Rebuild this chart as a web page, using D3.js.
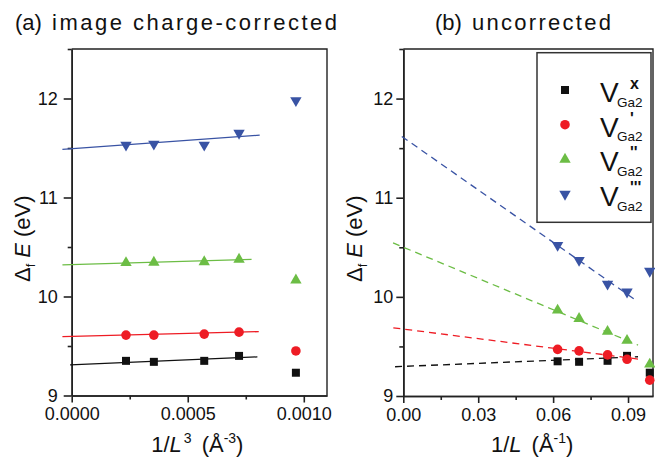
<!DOCTYPE html>
<html>
<head>
<meta charset="utf-8">
<script src="https://cdn.jsdelivr.net/npm/d3@7"></script>
<style>
  body { margin: 0; background: #fff; }
  text { font-family: 'Liberation Sans', Arial, sans-serif; fill: #111; }
</style>
</head>
<body>
<script>
// x values
const invL3 = [0.000234, 0.000354, 0.000571, 0.000721, 0.000966]
const invL = [0.0618, 0.0704, 0.0818, 0.0896, 0.0987]

// (a) image charge-corrected formation energies (eV)
const corrX = [9.35, 9.34, 9.35, 9.40, 9.23]
const corrP1 = [9.61, 9.61, 9.62, 9.64, 9.45]
const corrP2 = [10.34, 10.345, 10.35, 10.375, 10.165]
const corrP3 = [11.53, 11.54, 11.53, 11.65, 11.98]

// (b) uncorrected formation energies (eV)
const uncX = [9.35, 9.345, 9.355, 9.405, 9.235]
const uncP1 = [9.47, 9.455, 9.415, 9.37, 9.16]
const uncP2 = [9.865, 9.78, 9.65, 9.56, 9.32]
const uncP3 = [10.52, 10.37, 10.13, 10.05, 10.26]

// fit lines, [x, E] end points
const fitCorrX = [[-0.000007, 9.31], [0.0008, 9.39]]
const fitCorrP1 = [[-0.00004, 9.594], [0.000806, 9.645]]
const fitCorrP2 = [[-0.00004, 10.32], [0.000775, 10.376]]
const fitCorrP3 = [[-0.00004, 11.487], [0.00081, 11.63]]
const fitUncX = [[-0.0033, 9.295], [0.094, 9.396]]
const fitUncP1 = [[-0.004, 9.688], [0.094, 9.373]]
const fitUncP2 = [[-0.0041, 10.544], [0.094, 9.514]]
const fitUncP3 = [[-0.0006, 11.618], [0.0927, 9.974]]

const charges = ['x', '\'', '\'\'', '\'\'\'']
const colors = ['#111111', '#ee1c24', '#6cbd45', '#3953a4']

const series = charges.map((c, i) => ({
  charge: c,
  color: colors[i],
  corr: [corrX, corrP1, corrP2, corrP3][i],
  unc: [uncX, uncP1, uncP2, uncP3][i],
  fitCorr: [fitCorrX, fitCorrP1, fitCorrP2, fitCorrP3][i],
  fitUnc: [fitUncX, fitUncP1, fitUncP2, fitUncP3][i]
}))

const svg = d3.select('body').append('svg')
  .attr('width', 655)
  .attr('height', 459)

function marker (sel, i) {
  if (i === 0) {
    sel.attr('d', d3.symbol(d3.symbolSquare, 64)())
  } else if (i === 1) {
    sel.attr('d', d3.symbol(d3.symbolCircle, 72)())
  } else {
    sel.attr('d', d3.symbol(d3.symbolTriangle, 56)())
  }
}

function styleAxis (g) {
  g.selectAll('.domain, .tick line').attr('stroke', '#222').attr('stroke-width', 1.6)
  g.selectAll('.tick text').style('font-size', '18px').attr('fill', '#111')
}

function panel (cfg) {
  const x = d3.scaleLinear().domain(cfg.xDomain).range(cfg.xRange)
  const y = d3.scaleLinear().domain([9, 12.5]).range(cfg.yRange)
  const g = svg.append('g')

  // top and right frame
  g.append('path')
    .attr('d', 'M' + cfg.xRange[0] + ',' + cfg.yRange[1] + 'H' + cfg.xRange[1] + 'V' + cfg.yRange[0])
    .attr('fill', 'none')
    .attr('stroke', '#222')
    .attr('stroke-width', 1.4)

  // minor ticks
  g.append('g')
    .attr('transform', 'translate(0,' + cfg.yRange[0] + ')')
    .call(d3.axisBottom(x).tickValues(cfg.xMinor).tickSize(4).tickSizeOuter(0).tickFormat(''))
    .call(styleAxis)
  g.append('g')
    .attr('transform', 'translate(' + cfg.xRange[0] + ',0)')
    .call(d3.axisLeft(y).tickValues([9.5, 10.5, 11.5, 12.5]).tickSize(4).tickSizeOuter(0).tickFormat(''))
    .call(styleAxis)

  // major ticks
  g.append('g')
    .attr('transform', 'translate(0,' + cfg.yRange[0] + ')')
    .call(d3.axisBottom(x).tickValues(cfg.xMajor).tickSize(7).tickPadding(5).tickSizeOuter(0).tickFormat(d3.format(cfg.fmt)))
    .call(styleAxis)
  g.append('g')
    .attr('transform', 'translate(' + cfg.xRange[0] + ',0)')
    .call(d3.axisLeft(y).tickValues([9, 10, 11, 12]).tickSize(cfg.yTick).tickPadding(cfg.yPad).tickSizeOuter(0).tickFormat(d3.format('d')))
    .call(styleAxis)

  const line = d3.line().x(d => x(d[0])).y(d => y(d[1]))

  series.forEach((s, i) => {
    g.append('path')
      .datum(s[cfg.fit])
      .attr('d', line)
      .attr('fill', 'none')
      .attr('stroke', s.color)
      .attr('stroke-width', 1.3)
      .attr('stroke-dasharray', cfg.dash)

    g.selectAll('.pt' + i)
      .data(s[cfg.key])
      .enter()
      .append('path')
      .attr('class', 'pt' + i)
      .call(marker, i)
      .attr('transform', (d, j) => 'translate(' + x(cfg.xs[j]) + ',' + y(d) + ')' + (i === 3 ? ' rotate(180)' : ''))
      .attr('fill', s.color)
  })

  // panel title
  svg.append('text')
    .attr('x', cfg.titleX)
    .attr('y', 30)
    .style('font-size', '22px')
    .text(cfg.tag)
  svg.append('text')
    .attr('x', cfg.titleX + 37)
    .attr('y', 30)
    .style('font-size', '22px')
    .attr('textLength', cfg.titleLen)
    .text(cfg.title)

  // y label
  const yl = svg.append('text')
    .attr('transform', 'translate(' + cfg.yLabelX + ',282) rotate(-90)')
    .style('font-size', '22px')
  yl.append('tspan').text('\u0394')
  yl.append('tspan').attr('dy', 5).style('font-size', '13px').text('f')
  yl.append('tspan').attr('dy', -5).attr('dx', 6).style('font-style', 'italic').text('E')
  yl.append('tspan').attr('dx', 6).text('(eV)')

  // x label
  const xl = svg.append('text')
    .attr('x', (cfg.xRange[0] + cfg.xRange[1]) / 2 + cfg.xLabelShift)
    .attr('y', 452)
    .attr('text-anchor', 'middle')
    .style('font-size', '22px')
  xl.append('tspan').text('1/')
  xl.append('tspan').style('font-style', 'italic').text('L')
  if (cfg.cube) xl.append('tspan').attr('dy', -9).attr('dx', 2).style('font-size', '14px').text('3')
  xl.append('tspan').attr('dy', cfg.cube ? 9 : 0).attr('dx', 10).text('(\u00c5')
  xl.append('tspan').attr('dy', -9).style('font-size', '14px').text(cfg.cube ? '-3' : '-1')
  xl.append('tspan').attr('dy', 9).text(')')

  return { x, y }
}

panel({
  xDomain: [0, 0.0011],
  xRange: [71.7, 327],
  yRange: [395.5, 49],
  xMajor: [0, 0.0005, 0.001],
  xMinor: [0.00025, 0.00075],
  fmt: '.4f',
  yTick: 8,
  yPad: 6,
  xs: invL3,
  key: 'corr',
  fit: 'fitCorr',
  dash: null,
  tag: '(a)',
  title: 'image charge-corrected',
  titleX: 15,
  titleLen: 285,
  yLabelX: 30,
  xLabelShift: -2,
  cube: true
})

panel({
  xDomain: [0, 0.1],
  xRange: [403.3, 653],
  yRange: [396, 49],
  xMajor: [0, 0.03, 0.06, 0.09],
  xMinor: [0.015, 0.045, 0.075],
  fmt: '.2f',
  yTick: 7,
  yPad: 3,
  xs: invL,
  key: 'unc',
  fit: 'fitUnc',
  dash: '7,5',
  tag: '(b)',
  title: 'uncorrected',
  titleX: 435,
  titleLen: 139,
  yLabelX: 362,
  xLabelShift: 4,
  cube: false
})

// legend
const legend = svg.append('g')
legend.append('rect')
  .attr('x', 537)
  .attr('y', 52.7)
  .attr('width', 114)
  .attr('height', 169.6)
  .attr('fill', '#fff')
  .attr('stroke', '#333')
  .attr('stroke-width', 1.5)

series.forEach((s, i) => {
  const ly = 90 + i * 34.7
  legend.append('path')
    .call(marker, i)
    .attr('transform', 'translate(565,' + ly + ')' + (i === 3 ? ' rotate(180)' : ''))
    .attr('fill', s.color)
  legend.append('text')
    .attr('x', 600)
    .attr('y', ly + 12)
    .style('font-size', '28px')
    .text('V')
  legend.append('text')
    .attr('x', 630)
    .attr('y', ly - 1)
    .style('font-size', '16px')
    .style('font-weight', 'bold')
    .text(s.charge)
  legend.append('text')
    .attr('x', 617)
    .attr('y', ly + 16.5)
    .style('font-size', '13.5px')
    .text('Ga2')
})
</script>
</body>
</html>
